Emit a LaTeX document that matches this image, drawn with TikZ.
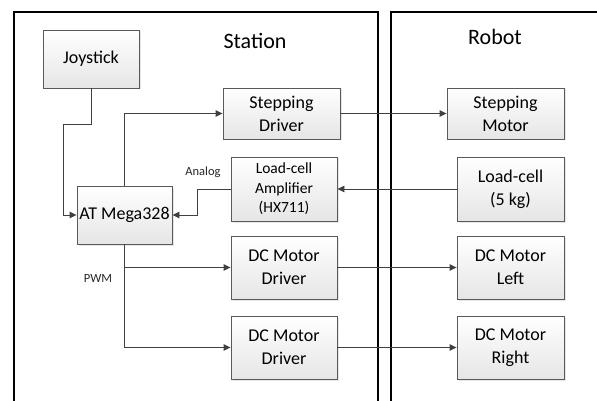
\documentclass[tikz,border=0pt]{standalone}
\usepackage{fontspec}
\setmainfont{Carlito}
\usetikzlibrary{arrows.meta,shadows}
\definecolor{boxline}{HTML}{595959}
\definecolor{wire}{HTML}{404040}
\begin{document}
\begin{tikzpicture}[x=1pt,y=-1pt,
  blk/.style={draw=boxline,line width=0.9pt,top color=white,bottom color=gray!20,
    drop shadow={opacity=0.2,shadow xshift=1.5pt,shadow yshift=-1.5pt},
    align=center,inner sep=0pt,font=\fontsize{18}{23}\selectfont},
  small/.style={font=\fontsize{12.5}{15}\selectfont,text=black!85},
  title/.style={font=\fontsize{22}{27}\selectfont},
  wr/.style={draw=wire,line width=0.9pt,-{Triangle[length=7pt,width=6.5pt]}},
  frm/.style={draw=black,line width=2pt}]
\useasboundingbox (0,0) rectangle (597,401);
%
% frames
\draw[frm] (14,402) -- (14,12) -- (378,12) -- (378,402);
\draw[frm] (391,402) -- (391,12) -- (598,12);
\node[title] (st) at (255,41) {Station};
\node[title] (rb) at (495,37) {Robot};
%
% station blocks
\node[blk,minimum width=96pt,minimum height=58pt] (joy) at (91,59) {Joystick};
\node[blk,minimum width=95pt,minimum height=58pt] (mega) at (124.5,215) {AT Mega328};
\node[blk,minimum width=117pt,minimum height=51pt] (sdrv) at (281.5,113.5) {Stepping\\Driver};
\node[blk,minimum width=106pt,minimum height=64pt,font=\fontsize{15.5}{19.5}\selectfont] (amp) at (284,189) {Load-cell\\Amplifier\\(HX711)};
\node[blk,minimum width=106pt,minimum height=63pt] (dcd1) at (284,267.5) {DC Motor\\Driver};
\node[blk,minimum width=106pt,minimum height=63pt] (dcd2) at (284,347.5) {DC Motor\\Driver};
%
% robot blocks
\node[blk,minimum width=117pt,minimum height=51pt] (smot) at (505.5,113.5) {Stepping\\Motor};
\node[blk,minimum width=107pt,minimum height=64pt] (lcell) at (510.5,189) {Load-cell\\(5 kg)};
\node[blk,minimum width=107pt,minimum height=63pt] (dcl) at (510.5,267.5) {DC Motor\\Left};
\node[blk,minimum width=107pt,minimum height=63pt] (dcr) at (510.5,347.5) {DC Motor\\Right};
%
% labels
\node[small] (an) at (203,172) {Analog};
\node[small] (pwm) at (98,278) {PWM};
%
% wires
\coordinate (jb) at (63,124);
\coordinate (ab) at (197,189);
\draw[wr] (joy.south) |- (jb) |- (mega.west);
\draw[wr] (amp.west) -- (ab) |- (mega.east);
\draw[wr] (mega.north) |- (sdrv.west);
\draw[wr] (mega.south) |- (dcd1.west);
\draw[wr] (mega.south) |- (dcd2.west);
\draw[wr] (sdrv.east) -- (smot.west);
\draw[wr] (lcell.west) -- (amp.east);
\draw[wr] (dcd1.east) -- (dcl.west);
\draw[wr] (dcd2.east) -- (dcr.west);
%
\end{tikzpicture}
\end{document}
